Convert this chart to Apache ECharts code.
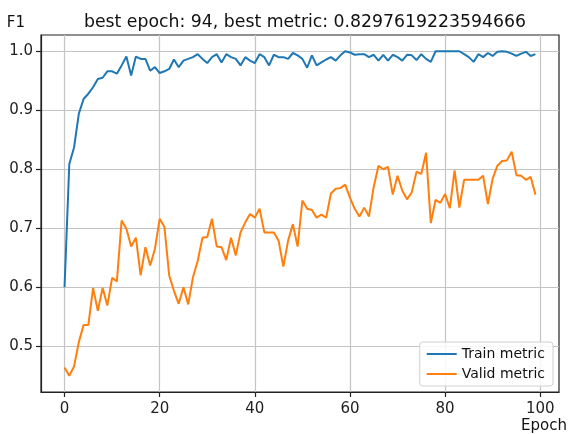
<!DOCTYPE html>
<html>
<head>
<meta charset="utf-8">
<script src="https://cdn.jsdelivr.net/npm/echarts@6/dist/echarts.min.js"></script>
<style>
html,body{margin:0;padding:0;background:#fff;}
#chart{width:571px;height:434px;}
</style>
</head>
<body>
<div id="chart"></div>
<script>
const epochs = Array.from({length: 100}, (_, i) => i);
const trainMetric = [
0.600,0.809,0.837,0.894,0.919,0.928,0.939,0.953,0.955,0.966,
0.966,0.962,0.976,0.991,0.959,0.991,0.987,0.987,0.967,0.973,
0.963,0.966,0.970,0.986,0.973,0.984,0.987,0.990,0.995,0.987,
0.980,0.990,0.995,0.981,0.995,0.990,0.987,0.976,0.990,0.984,
0.980,0.995,0.990,0.976,0.994,0.990,0.990,0.987,0.997,0.993,
0.987,0.972,0.993,0.976,0.981,0.986,0.990,0.984,0.993,1.000,
0.998,0.994,0.995,0.995,0.990,0.994,0.984,0.994,0.984,0.994,
0.990,0.984,0.994,0.993,0.985,0.995,0.987,0.982,1.000,1.000,
1.000,1.000,1.000,1.000,0.995,0.990,0.982,0.995,0.990,0.997,
0.992,0.999,1.000,0.999,0.996,0.992,0.996,0.999,0.992,0.995
];
const validMetric = [
0.464,0.450,0.466,0.507,0.536,0.536,0.599,0.560,0.599,0.569,
0.616,0.610,0.713,0.699,0.669,0.684,0.620,0.668,0.637,0.665,
0.716,0.702,0.620,0.594,0.572,0.600,0.571,0.617,0.645,0.684,
0.685,0.716,0.669,0.668,0.646,0.684,0.654,0.693,0.710,0.724,
0.718,0.733,0.693,0.693,0.693,0.679,0.635,0.679,0.707,0.669,
0.747,0.733,0.731,0.718,0.723,0.718,0.759,0.767,0.768,0.774,
0.752,0.733,0.720,0.735,0.720,0.770,0.806,0.800,0.804,0.757,
0.789,0.764,0.749,0.761,0.796,0.792,0.828,0.709,0.748,0.743,
0.758,0.734,0.798,0.735,0.782,0.782,0.782,0.782,0.789,0.741,
0.784,0.806,0.814,0.815,0.8297619223594666,0.790,0.789,0.782,0.787,0.757
];
const xTicks = [0, 20, 40, 60, 80, 100];
const yTicks = [0.5, 0.6, 0.7, 0.8, 0.9, 1.0];
const titleText = 'best epoch: 94, best metric: 0.8297619223594666';
const seriesNames = ['Train metric', 'Valid metric'];

// matplotlib-like 5% margins
const allY = trainMetric.concat(validMetric);
const yMinD = Math.min(...allY), yMaxD = Math.max(...allY);
const yPad = (yMaxD - yMinD) * 0.05;
const xMinD = epochs[0], xMaxD = epochs[epochs.length - 1];
const xPad = (xMaxD - xMinD) * 0.05;

const FONT = 'DejaVu Sans';
const chart = echarts.init(document.getElementById('chart'), null, {renderer: 'canvas'});
chart.setOption({
  animation: false,
  backgroundColor: '#fff',
  textStyle: {fontFamily: FONT},
  title: {
    text: titleText,
    left: 300,
    textAlign: 'center',
    top: 9,
    textStyle: {fontFamily: FONT, fontSize: 17.3, fontWeight: 'normal', color: '#111'}
  },
  grid: {
    left: 41, right: 12, top: 35, bottom: 42,
    show: true, borderColor: '#222', borderWidth: 1.2, backgroundColor: 'transparent'
  },
  legend: {
    orient: 'vertical',
    right: 18,
    bottom: 48,
    data: seriesNames.map(n => ({name: n, icon: 'rect'})),
    itemWidth: 30,
    itemHeight: 2,
    itemGap: 6,
    padding: [5, 8, 5, 7],
    backgroundColor: 'rgba(255,255,255,0.85)',
    borderColor: '#d0d0d0',
    borderWidth: 1,
    borderRadius: 3,
    textStyle: {fontFamily: FONT, fontSize: 14, color: '#111'}
  },
  xAxis: {
    type: 'value',
    min: xMinD - xPad,
    max: xMaxD + xPad,
    name: 'Epoch',
    nameLocation: 'end',
    nameGap: 8,
    nameTextStyle: {fontFamily: FONT, fontSize: 15, color: '#111', align: 'right', verticalAlign: 'top', padding: [27, 0, 0, 0]},
    axisLine: {show: true, onZero: false, lineStyle: {color: '#222', width: 1.2}},
    axisTick: {show: true, length: 5, inside: false, customValues: xTicks, lineStyle: {color: '#222', width: 1.2}},
    axisLabel: {customValues: xTicks, margin: 10, fontFamily: FONT, fontSize: 15, color: '#222', showMinLabel: true, showMaxLabel: true},
    splitLine: {show: true, lineStyle: {color: '#c4c4c4', width: 1.2}}
  },
  yAxis: {
    type: 'value',
    min: yMinD - yPad,
    max: yMaxD + yPad,
    name: 'F1',
    nameLocation: 'end',
    nameGap: 4,
    nameTextStyle: {fontFamily: FONT, fontSize: 15, color: '#111', align: 'right', verticalAlign: 'bottom', padding: [0, 16, 0, 0]},
    axisLine: {show: true, onZero: false, lineStyle: {color: '#222', width: 1.2}},
    axisTick: {show: true, length: 5, inside: false, customValues: yTicks, lineStyle: {color: '#222', width: 1.2}},
    axisLabel: {customValues: yTicks, margin: 8, fontFamily: FONT, fontSize: 15, color: '#222', formatter: v => v.toFixed(1)},
    splitLine: {show: true, lineStyle: {color: '#c4c4c4', width: 1.2}}
  },
  series: [
    {
      name: seriesNames[0],
      type: 'line',
      data: epochs.map((e, i) => [e, trainMetric[i]]),
      showSymbol: false,
      symbol: 'none',
      lineStyle: {color: '#1f77b4', width: 2},
      itemStyle: {color: '#1f77b4'}
    },
    {
      name: seriesNames[1],
      type: 'line',
      data: epochs.map((e, i) => [e, validMetric[i]]),
      showSymbol: false,
      symbol: 'none',
      lineStyle: {color: '#ff7f0e', width: 2},
      itemStyle: {color: '#ff7f0e'}
    }
  ]
});
</script>
</body>
</html>
